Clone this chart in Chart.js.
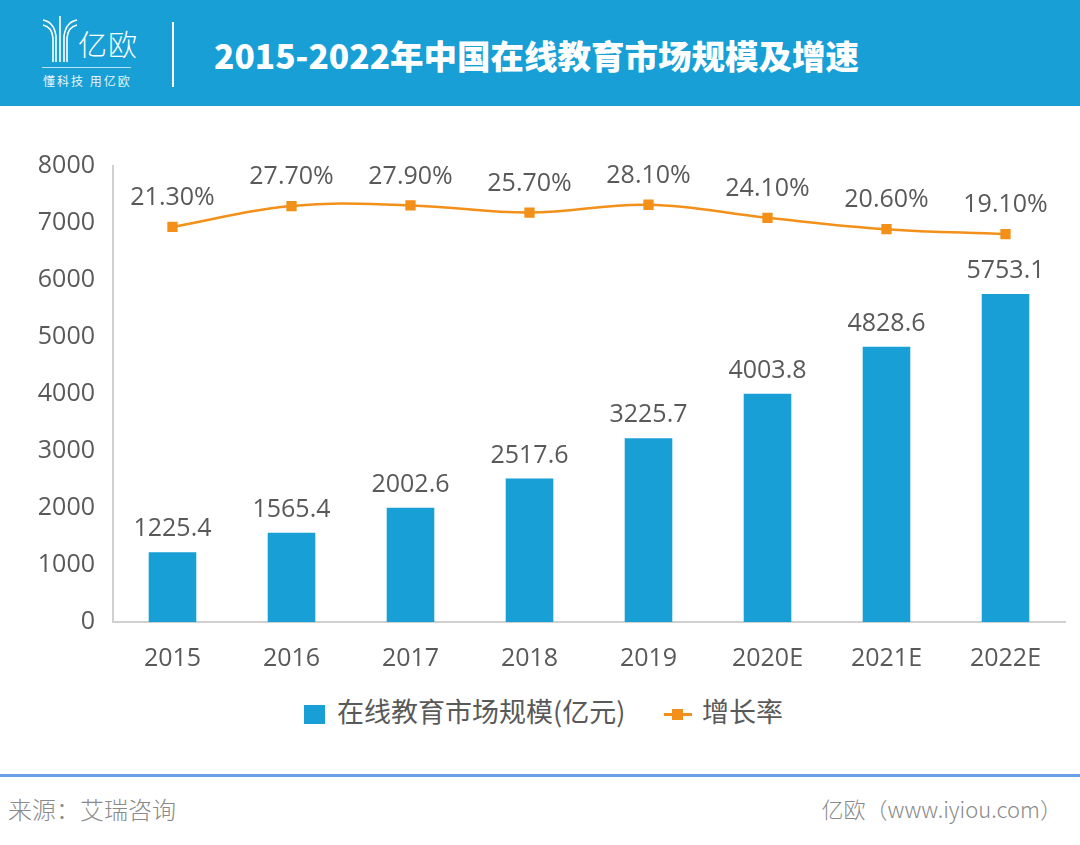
<!DOCTYPE html>
<html>
<head>
<meta charset="utf-8">
<script src="https://cdn.jsdelivr.net/npm/chart.js@4"></script>
<style>
  body { margin: 0; width: 1080px; height: 845px; background: #fff; position: relative; overflow: hidden;
         font-family: "Open Sans", "Noto Sans CJK SC", sans-serif; }
  #header { position: absolute; left: 0; top: 0; width: 1080px; height: 106px; background: #179fd6; }
  #logo { position: absolute; left: 40px; top: 14px; }
  #logoName { position: absolute; left: 78px; top: 22px; color: #fff; font: 300 29px "Noto Sans CJK SC"; letter-spacing: 1px; }
  #logoRule { position: absolute; left: 42px; top: 67px; width: 89px; height: 1px; background: rgba(255,255,255,0.7); }
  #slogan { position: absolute; left: 43px; top: 72px; color: #e8f5fb; font: 12px "Noto Sans CJK SC"; letter-spacing: 2px; }
  #divider { position: absolute; left: 172px; top: 22px; width: 2px; height: 65px; background: #fff; }
  #title { position: absolute; left: 214px; top: 32px; color: #fff; font: 900 33.5px "Noto Sans CJK SC"; line-height: 46px; white-space: nowrap; }
  #wrap { position: absolute; left: 0; top: 133px; width: 1080px; height: 547px; }
  #legend { position: absolute; top: 692px; left: 0; width: 1080px; height: 40px; font: 27px "Noto Sans CJK SC"; color: #595959; }
  .lg { position: absolute; top: 0; line-height: 38px; white-space: nowrap; }
  #footLine { position: absolute; left: 0; top: 774px; width: 1080px; height: 3px; background: #6aa0e8; }
  #src { position: absolute; left: 8px; top: 791px; color: #8a8a8a; font: 300 24px "Noto Sans CJK SC"; }
  #site { position: absolute; right: 18px; top: 792px; color: #8a8a8a; font: 300 22px "Noto Sans CJK SC"; }
</style>
</head>
<body>
<div id="header">
  <svg id="logo" width="40" height="50" viewBox="0 0 40 50">
    <g fill="none" stroke="#fff" stroke-width="1.6">
      <path d="M3 6 Q14 8 16 22 L16 48"/>
      <path d="M3 11 Q12 13 13 24 L13 48"/>
      <path d="M37 6 Q26 8 24 22 L24 48"/>
      <path d="M37 11 Q28 13 27 24 L27 48"/>
      <path d="M20 2 L20 48"/>
    </g>
  </svg>
  <div id="logoName">亿欧</div>
  <div id="logoRule"></div>
  <div id="slogan">懂科技 用亿欧</div>
  <div id="divider"></div>
  <div id="title">2015-2022年中国在线教育市场规模及增速</div>
</div>
<div id="wrap"><canvas id="chart_one"></canvas></div>
<div id="legend">
  <div class="lg" style="left:304px;"><span style="display:inline-block;width:21px;height:19px;background:#179fd6;vertical-align:-2px;margin-right:12px;"></span>在线教育市场规模(亿元)</div>
  <div class="lg" style="left:664px;">
    <span style="display:inline-block;position:relative;width:28px;height:20px;vertical-align:-2px;margin-right:10px;">
      <span style="position:absolute;left:0;top:9px;width:28px;height:3px;background:#f39019;"></span>
      <span style="position:absolute;left:8px;top:5px;width:11px;height:11px;background:#f39019;"></span>
    </span>增长率</div>
</div>
<div id="footLine"></div>
<div id="src">来源：艾瑞咨询</div>
<div id="site">亿欧（www.iyiou.com）</div>

<script>
const years = ["2015", "2016", "2017", "2018", "2019", "2020E", "2021E", "2022E"];
const marketSize = [1225.4, 1565.4, 2002.6, 2517.6, 3225.7, 4003.8, 4828.6, 5753.1];
const growthRate = [21.3, 27.7, 27.9, 25.7, 28.1, 24.1, 20.6, 19.1];
const yTicks = [0, 1000, 2000, 3000, 4000, 5000, 6000, 7000, 8000];

const labelColor = '#595959';
const numFont = '"Open Sans", "Noto Sans", sans-serif';

const valueLabels = {
    id: 'valueLabels',
    afterDatasetsDraw(chart) {
        const ctx = chart.ctx;
        ctx.save();
        ctx.fillStyle = labelColor;
        ctx.font = '25px ' + numFont;
        ctx.textAlign = 'center';
        ctx.textBaseline = 'middle';
        chart.data.datasets.forEach((ds, i) => {
            const meta = chart.getDatasetMeta(i);
            meta.data.forEach((el, j) => {
                if (ds.type === 'line') {
                    ctx.fillText(ds.data[j].toFixed(2) + '%', el.x, el.y - 29);
                } else {
                    ctx.fillText(ds.data[j].toFixed(1), el.x, el.y - 23);
                }
            });
        });
        ctx.restore();
    }
};

const ct = document.getElementById('chart_one');
new Chart(ct, {
    data: {
        labels: years,
        datasets: [{
            type: 'line',
            label: '增长率',
            data: growthRate,
            yAxisID: 'y2',
            borderColor: '#f39019',
            backgroundColor: '#f39019',
            borderWidth: 2.5,
            tension: 0.4,
            pointStyle: 'rect',
            pointRadius: 5.5,
            pointHoverRadius: 5.5
        }, {
            type: 'bar',
            label: '在线教育市场规模(亿元)',
            data: marketSize,
            yAxisID: 'y',
            backgroundColor: '#179fd6',
            barPercentage: 0.4,
            categoryPercentage: 1.0
        }]
    },
    options: {
        responsive: true,
        maintainAspectRatio: false,
        animation: false,
        layout: { padding: { top: 18, right: 15, left: 0, bottom: 0 } },
        plugins: {
            legend: { display: false },
            tooltip: { enabled: false }
        },
        scales: {
            x: {
                grid: { display: false, drawTicks: false },
                border: { color: '#d0d0d0', width: 2 },
                ticks: { color: labelColor, font: { size: 25, family: numFont }, padding: 22 },
                afterFit: s => { s.height = 58; }
            },
            y: {
                min: 0,
                max: 8000,
                grid: { display: false, drawTicks: false },
                border: { color: '#d0d0d0', width: 2 },
                afterBuildTicks: s => { s.ticks = yTicks.map(v => ({ value: v })); },
                ticks: { color: labelColor, font: { size: 25, family: numFont }, padding: 18,
                         callback: v => String(v) },
                afterFit: s => { s.width = 113; }
            },
            y2: {
                display: false,
                min: -100,
                max: 40
            }
        }
    },
    plugins: [valueLabels]
});
</script>
</body>
</html>
